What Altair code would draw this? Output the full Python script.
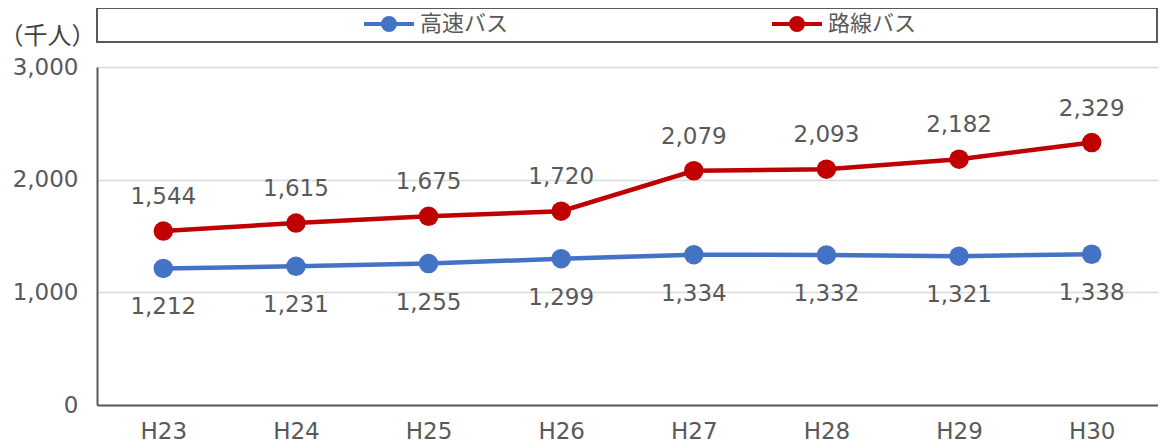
import altair as alt
import pandas as pd

years = ["H23", "H24", "H25", "H26", "H27", "H28", "H29", "H30"]
series_names = ["高速バス", "路線バス"]
highway_bus = [1212, 1231, 1255, 1299, 1334, 1332, 1321, 1338]
route_bus = [1544, 1615, 1675, 1720, 2079, 2093, 2182, 2329]
y_ticks = [0, 1000, 2000, 3000]
colors = ["#4472C4", "#C00000"]

rows = []
for name, vals in zip(series_names, [highway_bus, route_bus]):
    for yr, v in zip(years, vals):
        rows.append({"year": yr, "series": name, "value": v})
df = pd.DataFrame(rows)

TXT = "#595959"
NUMFONT = "DejaVu Sans"
JPFONT = "Noto Sans CJK JP"

x_enc = alt.X("year:N", sort=years, scale=alt.Scale(type="point", padding=0.5),
              axis=alt.Axis(title=None, labelAngle=0, ticks=False, domain=True,
                            domainColor="#595959", domainWidth=2,
                            labelFontSize=23, labelFont=NUMFONT, labelColor=TXT,
                            labelPadding=15, grid=False))
y_enc = alt.Y("value:Q", scale=alt.Scale(domain=[0, 3000], nice=False),
              axis=alt.Axis(values=y_ticks, format=",.0f", ticks=False,
                            domainColor="#595959", domainWidth=2,
                            labelFontSize=23, labelFont=NUMFONT, labelColor=TXT,
                            labelPadding=19, gridColor="#d9d9d9", gridWidth=1.5,
                            title="（千人）", titleAngle=0, titleX=-50, titleY=-31,
                            titleAlign="center", titleBaseline="middle",
                            titleFont=JPFONT, titleFontSize=24, titleFontWeight="normal",
                            titleColor="#404040"))

symbol_path = "M-1,0H1M-0.24,0A0.24,0.24,0,1,0,0.24,0A0.24,0.24,0,1,0,-0.24,0Z"

legend = alt.Legend(title=None, orient="none", direction="horizontal",
                    legendX=265, legendY=-70, columnPadding=255,
                    labelFont=JPFONT, labelFontSize=22, labelColor=TXT,
                    labelOffset=4, symbolType=symbol_path,
                    symbolSize=2500, symbolStrokeWidth=4, symbolOpacity=1,
                    padding=0)
color_scale = alt.Scale(domain=series_names, range=colors)

base = alt.Chart(df)

lines = base.mark_line(strokeWidth=4.5).encode(
    x=x_enc, y=y_enc, color=alt.Color("series:N", sort=series_names, scale=color_scale, legend=legend))
points = base.mark_point(filled=True, size=380, opacity=1).encode(
    x=x_enc, y=y_enc, color=alt.Color("series:N", sort=series_names, scale=color_scale, legend=legend))

labels_top = base.transform_filter(alt.datum.series == "路線バス").mark_text(
    dy=-34, fontSize=23, font=NUMFONT, color=TXT).encode(
    x=x_enc, y=y_enc, text=alt.Text("value:Q", format=","))
labels_bottom = base.transform_filter(alt.datum.series == "高速バス").mark_text(
    dy=39, fontSize=23, font=NUMFONT, color=TXT).encode(
    x=x_enc, y=y_enc, text=alt.Text("value:Q", format=","))

legend_box = alt.Chart(pd.DataFrame({"k": [0]})).mark_rect(
    fill="white", stroke="#595959", strokeWidth=2).encode(
    x=alt.value(0), x2=alt.value(1060), y=alt.value(-59), y2=alt.value(-25))

chart = alt.layer(legend_box, lines, points, labels_top, labels_bottom).properties(
    width=1061, height=338,
    autosize=alt.AutoSizeParams(type="none"),
    padding={"left": 89, "top": 59, "right": 0, "bottom": 38},
).configure_view(stroke="#595959", strokeWidth=2).configure(background="white")

chart.save("out.html", embed_options={"renderer": "svg", "actions": False})
